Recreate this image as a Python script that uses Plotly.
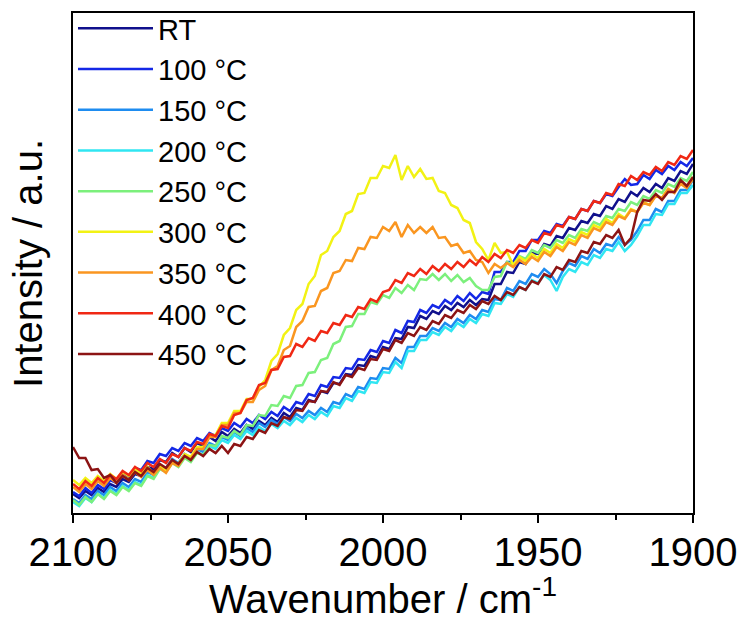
import plotly.graph_objects as go

# Wavenumber sampling (cm^-1), 2 cm^-1 spacing from 2100 down to 1900
wavenumber = list(range(2100, 1898, -2))

labels = ["RT", "100 °C", "150 °C", "200 °C", "250 °C", "300 °C", "350 °C", "400 °C", "450 °C"]
colors = ["#10108C", "#1428E6", "#1E8CF0", "#30E6F2", "#7CF07C", "#F2F214", "#FA9620", "#F02814", "#8C1414"]

# Intensities (a.u.)
rt = [19,15,22,18,25,21,29,26,34,31,
      39,37,46,44,53,51,60,56,65,61,
      70,67,76,72,81,77,84,80,88,84,
      92,88,95,91,100,96,105,103,113,111,
      122,120,130,129,139,138,148,147,157,155,
      166,164,175,174,186,185,197,194,202,199,
      207,203,210,206,213,208,214,213,229,229,
      241,240,251,249,260,259,269,267,277,275,
      285,283,292,290,299,297,307,304,314,311,
      321,317,325,321,329,325,335,332,342,339,
      349]
t100 = [21,17,25,20,28,24,33,30,39,36,
        45,43,52,50,59,57,65,62,70,67,
        75,72,80,77,85,82,90,86,94,90,
        98,94,101,97,106,102,111,109,119,117,
        128,126,136,135,145,144,154,153,163,161,
        172,170,183,180,192,191,203,200,208,205,
        213,209,217,212,220,214,221,219,241,241,
        251,251,262,262,273,273,282,280,289,287,
        296,294,304,302,312,310,319,317,326,334,
        328,329,338,334,343,339,347,343,351,347,
        355]
t150 = [14,10,18,14,22,18,26,22,30,26,
        34,31,41,38,48,45,54,50,59,55,
        64,61,70,67,76,73,81,77,85,81,
        90,86,93,89,96,92,99,95,102,98,
        105,101,111,109,119,116,126,124,135,134,
        145,144,155,150,166,166,177,177,185,182,
        190,186,194,190,198,194,203,201,214,213,
        225,222,232,229,239,236,244,239,230,242,
        250,247,257,254,264,260,269,267,276,268,
        273,282,293,293,304,301,312,312,323,323,
        333]
t200 = [11,7,15,11,19,15,23,19,27,23,
        31,28,38,35,45,42,51,47,56,52,
        61,58,67,64,73,70,78,74,82,78,
        86,82,89,85,92,88,95,91,98,94,
        101,97,107,105,115,112,122,120,131,130,
        141,140,151,145,162,162,173,173,181,178,
        186,182,190,186,194,190,199,197,210,209,
        219,216,226,223,233,230,238,233,222,236,
        244,241,251,248,258,255,264,262,271,262,
        268,277,288,288,299,298,309,309,320,320,
        328]
t250 = [13,8,16,11,19,14,22,18,26,22,
        30,27,37,34,44,41,50,46,55,51,
        60,58,68,67,77,75,82,78,88,87,
        98,97,108,107,117,115,127,128,140,141,
        153,155,169,172,186,187,199,199,211,209,
        218,215,225,220,228,223,234,233,239,233,
        239,232,238,231,235,227,223,223,236,237,
        251,248,257,254,263,260,268,265,273,270,
        278,275,284,282,291,288,297,295,304,302,
        311,308,317,314,323,320,329,326,335,332,
        341]
t300 = [33,28,35,30,37,32,39,34,41,37,
        44,39,46,40,47,42,52,49,59,56,
        66,66,78,78,90,90,102,102,114,114,
        126,133,152,159,178,185,203,209,229,237,
        258,262,276,282,299,302,319,320,335,335,
        347,345,358,333,347,336,344,334,335,322,
        320,308,305,293,290,271,264,253,270,260,
        261,248,256,252,259,255,264,260,269,265,
        274,271,281,278,288,285,294,290,299,295,
        304,301,311,308,318,315,324,321,330,327,
        336]
t350 = [26,21,29,24,32,27,35,30,38,33,
        41,36,43,38,45,40,50,47,57,54,
        64,64,76,76,88,88,100,100,111,111,
        123,127,143,147,163,167,186,192,206,207,
        222,225,240,242,253,252,265,264,276,275,
        286,282,291,276,288,280,286,280,286,275,
        276,267,269,260,262,253,251,240,249,245,
        250,246,253,249,256,252,261,257,266,262,
        271,268,278,275,285,282,291,288,297,294,
        303,301,310,308,317,315,324,320,329,325,
        334]
t400 = [29,24,32,27,35,30,38,34,42,38,
        46,42,50,46,54,50,59,56,65,62,
        71,69,79,77,87,85,98,100,113,115,
        128,130,143,144,156,157,169,166,175,172,
        182,180,190,188,198,196,206,204,214,211,
        221,223,233,230,240,237,244,239,247,242,
        249,244,251,246,253,248,256,251,259,255,
        263,260,268,265,273,270,280,278,288,286,
        296,294,304,302,312,310,320,318,329,327,
        337,333,341,338,346,342,351,348,357,354,
        363]
t450 = [66,55,55,43,44,35,38,30,37,33,
        41,37,45,41,49,45,53,49,57,53,
        61,57,64,60,67,60,69,67,76,74,
        83,80,90,87,96,94,103,102,112,111,
        122,121,131,128,138,136,145,143,154,153,
        164,162,173,170,180,177,186,183,192,189,
        198,195,203,200,208,204,212,209,217,213,
        221,218,226,223,232,229,239,236,246,243,
        253,251,262,260,271,269,278,275,283,268,
        275,301,313,312,319,313,321,321,333,327,
        336]

series = [rt, t100, t150, t200, t250, t300, t350, t400, t450]

FONT = "Liberation Sans, Arial, sans-serif"

fig = go.Figure()
for name, col, vals in zip(labels, colors, series):
    fig.add_trace(go.Scatter(x=wavenumber, y=vals, mode="lines", name=name,
                             line=dict(color=col, width=2.5)))

fig.update_layout(
    width=745, height=621,
    margin=dict(l=73, r=52, t=13, b=108, autoexpand=False),
    paper_bgcolor="white", plot_bgcolor="white",
    font=dict(family=FONT, color="black", size=40),
    showlegend=True,
    legend=dict(x=0, y=0.266, xanchor="left", yanchor="bottom",
                font=dict(family=FONT, size=29, color="black"),
                bgcolor="rgba(0,0,0,0)", borderwidth=0,
                itemwidth=75, tracegroupgap=0),
    annotations=[dict(text="Intensity / a.u.", textangle=-90,
                      xref="paper", yref="paper", x=-0.0726, y=0.5,
                      xanchor="center", yanchor="middle", showarrow=False,
                      font=dict(family=FONT, size=40, color="black"))],
)
fig.update_xaxes(
    range=[2100, 1900], tickvals=[2100, 2050, 2000, 1950, 1900],
    ticks="outside", ticklen=8, tickwidth=2, tickcolor="black",
    ticklabelstandoff=-5,
    minor=dict(tickvals=[2075, 2025, 1975, 1925], ticks="outside", ticklen=5, tickwidth=2, tickcolor="black"),
    showline=True, linewidth=2, linecolor="black", mirror=True,
    showgrid=False, zeroline=False,
    tickfont=dict(family=FONT, size=40, color="black"),
    title=dict(text="Wavenumber / cm<sup>-1</sup>", font=dict(family=FONT, size=40, color="black"), standoff=4),
)
fig.update_yaxes(
    range=[0, 500], showticklabels=False, ticks="",
    showline=True, linewidth=2, linecolor="black", mirror=True,
    showgrid=False, zeroline=False,
)

fig.write_html("out.html")
